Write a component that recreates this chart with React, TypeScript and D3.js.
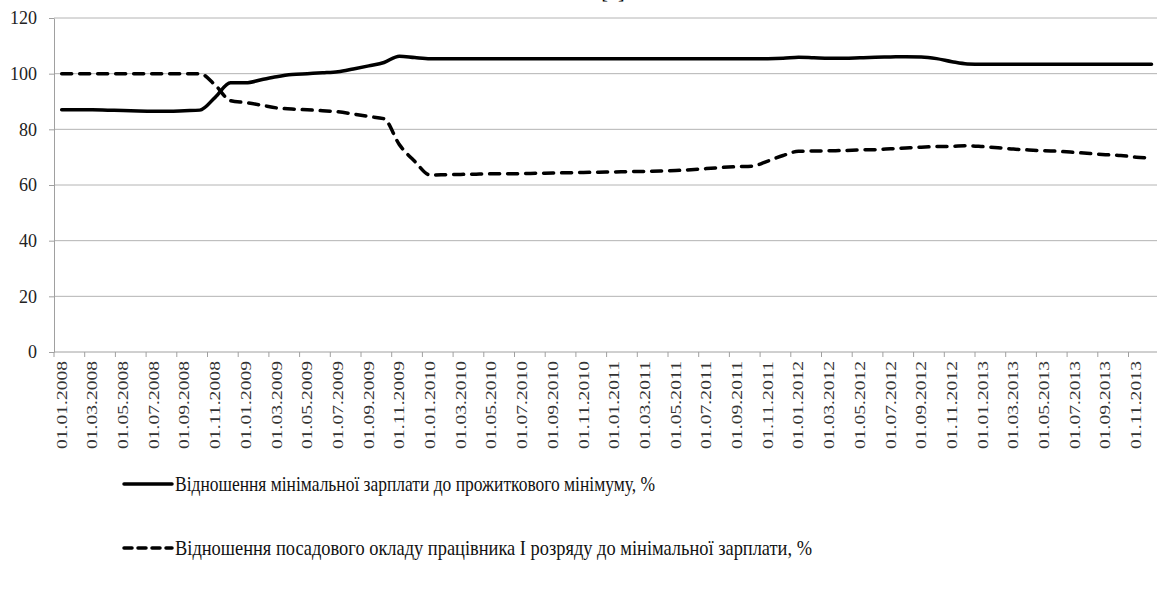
import * as d3 from 'd3'
import React from 'react'

// monthly categories 01.2008 .. 12.2013
const months = d3.timeMonth.range(new Date(2008, 0, 1), new Date(2014, 0, 1))
const categories = months.map(d3.timeFormat('%d.%m.%Y'))
const tickLabels = categories.filter((c, i) => i % 2 === 0)
const yTicks = [0, 20, 40, 60, 80, 100, 120]

// Відношення мінімальної зарплати до прожиткового мінімуму, %
const minWageToSubsistence = [
  87.0, 87.0, 87.0, 86.9, 86.8, 86.6, 86.5, 86.5, 86.7, 86.9, 91.5, 96.7,
  96.7, 97.8, 98.9, 99.7, 100.0, 100.3, 100.7, 101.7, 102.8, 104.0, 106.3, 105.8,
  105.4, 105.4, 105.4, 105.4, 105.4, 105.4, 105.4, 105.4, 105.4, 105.4, 105.4, 105.4,
  105.4, 105.4, 105.4, 105.4, 105.4, 105.4, 105.4, 105.4, 105.4, 105.4, 105.4, 105.5,
  105.9, 105.7, 105.5, 105.5, 105.7, 105.9, 106.0, 106.1, 106.0, 105.4, 104.3, 103.5,
  103.4, 103.4, 103.4, 103.4, 103.4, 103.4, 103.4, 103.4, 103.4, 103.4, 103.4, 103.4,
]

// Відношення посадового окладу працівника І розряду до мінімальної зарплати, %
const salaryToMinWage = [
  100, 100, 100, 100, 100, 100, 100, 100, 100, 100, 95.9, 90.3,
  89.6, 88.7, 87.7, 87.3, 87.0, 86.7, 86.3, 85.5, 84.6, 83.8, 74.5, 68.5,
  63.6, 63.7, 63.8, 63.9, 64.0, 64.0, 64.1, 64.2, 64.3, 64.4, 64.5, 64.6,
  64.7, 64.8, 64.9, 65.0, 65.2, 65.5, 65.9, 66.3, 66.6, 66.8, 68.6, 70.6,
  72.1, 72.2, 72.3, 72.4, 72.6, 72.7, 73.0, 73.3, 73.6, 73.8, 73.9, 74.1,
  73.8, 73.4, 72.9, 72.6, 72.3, 72.1, 71.7, 71.3, 70.9, 70.6, 70.0, 69.7,
]

const seriesNames = [
  'Відношення мінімальної зарплати до прожиткового мінімуму, %',
  'Відношення посадового окладу працівника І розряду до мінімальної зарплати, %',
]

export default function App() {
  const ref = React.useRef<SVGSVGElement>(null)

  React.useEffect(() => {
    const width = 1157
    const font = 'Liberation Serif, Times New Roman, DejaVu Serif, serif'
    const svg = d3.select(ref.current)
    svg.selectAll('*').remove()

    const x = d3.scaleBand<string>().domain(categories).range([54, 54 + 72 * 15.35]).padding(0)
    const y = d3.scaleLinear().domain([0, 120]).range([352, 18])
    const cx = (c: string) => (x(c) as number) + x.bandwidth() / 2

    // title, cut off at the top edge as in the source
    svg.append('text')
      .attr('x', 613).attr('y', -2)
      .attr('text-anchor', 'middle')
      .style('font-family', font).attr('font-size', 20)
      .text('[1]')

    // gridlines
    svg.append('g').selectAll('line')
      .data(yTicks.filter(t => t > 0))
      .enter().append('line')
      .attr('x1', 54).attr('x2', width)
      .attr('y1', d => y(d)).attr('y2', d => y(d))
      .attr('stroke', '#b4b4b4').attr('stroke-width', 1)

    // y axis
    const yAxis = svg.append('g')
      .attr('transform', 'translate(54,0)')
      .call(d3.axisLeft(y).tickValues(yTicks).tickSize(5).tickPadding(12).tickSizeOuter(0))
    yAxis.attr('font-family', null)
    yAxis.select('.domain').attr('stroke', '#a0a0a0')
    yAxis.selectAll('.tick line').attr('stroke', '#a0a0a0')
    yAxis.selectAll('.tick text')
      .style('font-family', font).attr('font-size', 18).attr('fill', '#222')

    // x axis
    const xAxis = svg.append('g')
    xAxis.append('line')
      .attr('x1', 54).attr('x2', width)
      .attr('y1', y(0)).attr('y2', y(0))
      .attr('stroke', '#a0a0a0')
    xAxis.selectAll('.xtick')
      .data(tickLabels)
      .enter().append('line')
      .attr('class', 'xtick')
      .attr('x1', d => x(d) as number).attr('x2', d => x(d) as number)
      .attr('y1', y(0)).attr('y2', y(0) + 5)
      .attr('stroke', '#a0a0a0')
    xAxis.selectAll('.xlabel')
      .data(tickLabels)
      .enter().append('text')
      .attr('class', 'xlabel')
      .attr('transform', d => `translate(${cx(d) + 5},361) rotate(-90)`)
      .attr('text-anchor', 'end')
      .style('font-family', font).attr('font-size', 15).attr('fill', '#333')
      .attr('textLength', 88).attr('lengthAdjust', 'spacingAndGlyphs')
      .text(d => d)

    // lines
    const line = d3.line<number>()
      .x((d, i) => cx(categories[i]))
      .y(d => y(d))
      .curve(d3.curveMonotoneX)

    svg.append('path')
      .datum(minWageToSubsistence)
      .attr('d', line)
      .attr('fill', 'none').attr('stroke', '#000')
      .attr('stroke-width', 3.5).attr('stroke-linecap', 'round').attr('stroke-linejoin', 'round')

    svg.append('path')
      .datum(salaryToMinWage)
      .attr('d', line)
      .attr('fill', 'none').attr('stroke', '#000')
      .attr('stroke-width', 3.5).attr('stroke-linecap', 'round')
      .attr('stroke-dasharray', '10,8')

    // legend
    const legendY = [484, 548]
    const legendLen = [480, 637]
    const legend = svg.append('g')
    seriesNames.forEach((name, i) => {
      legend.append('line')
        .attr('x1', 124).attr('x2', 172)
        .attr('y1', legendY[i]).attr('y2', legendY[i])
        .attr('stroke', '#000').attr('stroke-width', 3.5).attr('stroke-linecap', 'round')
        .attr('stroke-dasharray', i === 1 ? '8,6' : null)
      legend.append('text')
        .attr('x', 175).attr('y', legendY[i] + 7)
        .style('font-family', font).attr('font-size', 22).attr('fill', '#111')
        .attr('textLength', legendLen[i]).attr('lengthAdjust', 'spacingAndGlyphs')
        .text(name)
    })
  }, [])

  return (
    <svg ref={ref} width={1157} height={590}
      style={{ position: 'absolute', left: 0, top: 0, background: '#fff' }} />
  )
}
